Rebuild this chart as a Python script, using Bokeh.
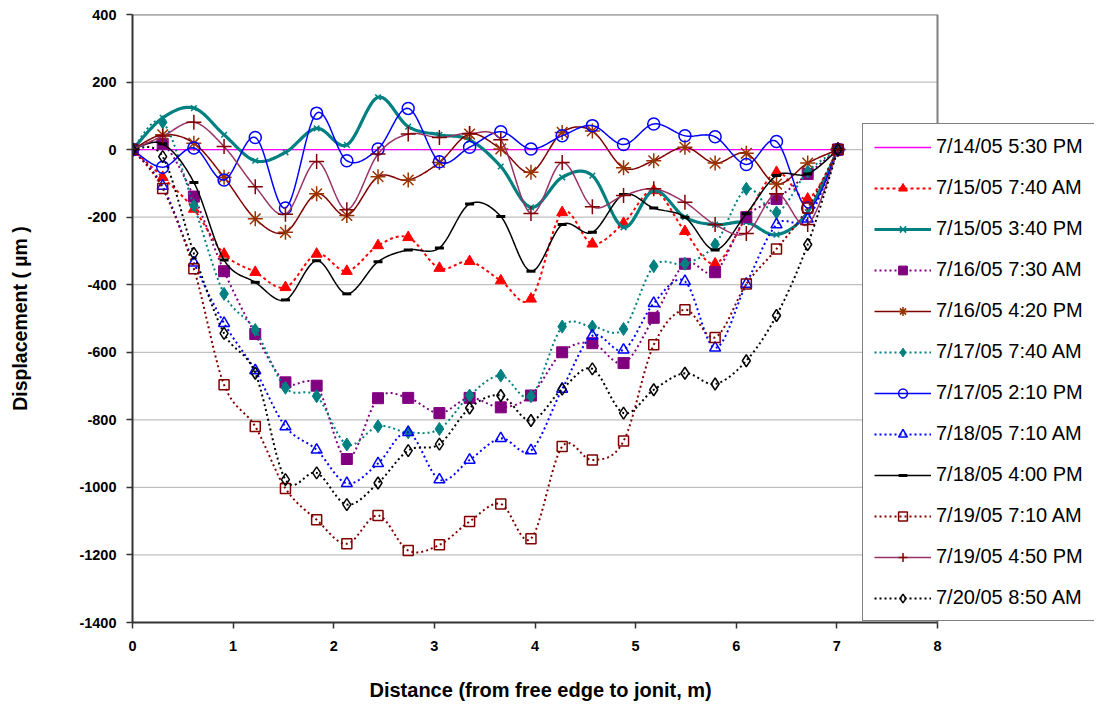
import numpy as np
from bokeh.plotting import figure
from bokeh.models import Range1d, Legend, LegendItem, Title, LinearAxis, FixedTicker
from bokeh.embed import file_html
from bokeh.resources import INLINE

# ---- data ----
X = [0, 0.30, 0.61, 0.91, 1.22, 1.52, 1.83, 2.13, 2.44, 2.74, 3.05, 3.35,
     3.66, 3.96, 4.27, 4.57, 4.88, 5.18, 5.49, 5.79, 6.10, 6.40, 6.71, 7.01]

LABELS = ["7/14/05 5:30 PM", "7/15/05 7:40 AM", "7/15/05 3:40 PM", "7/16/05 7:30 AM",
          "7/16/05 4:20 PM", "7/17/05 7:40 AM", "7/17/05 2:10 PM", "7/18/05 7:10 AM",
          "7/18/05 4:00 PM", "7/19/05 7:10 AM", "7/19/05 4:50 PM", "7/20/05 8:50 AM"]

S_0714_1730 = [0, 0, 0, 0, 0, 0, 0, 0, 0, 0, 0, 0, 0, 0, 0, 0, 0, 0, 0, 0, 0, 0, 0, 0]
S_0715_0740 = [0, -82, -176, -309, -363, -408, -309, -360, -284, -260, -351, -331,
               -388, -442, -186, -279, -218, -121, -242, -338, -200, -67, -146, 0]
S_0715_1540 = [0, 94, 123, 44, -33, -8, 63, 14, 155, 68, 44, 29,
               -50, -171, -82, -77, -230, -121, -200, -222, -215, -252, -185, 0]
S_0716_0730 = [0, 17, -139, -360, -546, -689, -699, -916, -736, -735, -780, -735,
               -763, -728, -600, -573, -632, -498, -338, -363, -200, -146, -72, 0]
S_0716_1620 = [0, 44, 19, -82, -205, -245, -131, -195, -80, -90, -38, 46,
               2, -67, 51, 55, -54, -33, 7, -40, -11, -102, -40, 0]
S_0717_0740 = [0, 81, -166, -427, -534, -705, -730, -873, -819, -837, -827, -728,
               -669, -730, -524, -524, -531, -345, -338, -281, -116, -186, -65, 0]
S_0717_1410 = [0, -52, 5, -90, 36, -173, 108, -33, 2, 122, -36, 7,
               53, 2, 41, 71, 15, 76, 41, 38, -44, 24, -173, 0]
S_0718_0710 = [0, -108, -335, -514, -654, -820, -889, -988, -929, -837, -977, -919,
               -855, -891, -709, -551, -593, -455, -390, -587, -398, -222, -205, 0]
S_0718_1600 = [0, 17, -97, -327, -393, -445, -329, -427, -332, -297, -291, -161,
               -198, -360, -222, -245, -133, -173, -200, -297, -190, -77, -72, 0]
S_0719_0710 = [0, -115, -353, -696, -820, -1003, -1096, -1167, -1083, -1187, -1170, -1101,
               -1049, -1152, -879, -919, -863, -578, -474, -556, -398, -294, -173, 0]
S_0719_1650 = [0, 40, 81, 9, -110, -191, -35, -178, -13, 46, 36, 48,
               29, -189, -38, -169, -136, -116, -156, -222, -248, -131, -222, 0]
S_0720_0850 = [0, -21, -307, -544, -662, -977, -957, -1051, -987, -891, -872, -765,
               -728, -802, -709, -649, -780, -711, -662, -694, -625, -491, -281, 0]

SERIES = [S_0714_1730, S_0715_0740, S_0715_1540, S_0716_0730, S_0716_1620, S_0717_0740,
          S_0717_1410, S_0718_0710, S_0718_1600, S_0719_0710, S_0719_1650, S_0720_0850]

X_TICKS = [0, 1, 2, 3, 4, 5, 6, 7, 8]
Y_TICKS = [-1400, -1200, -1000, -800, -600, -400, -200, 0, 200, 400]

X_TITLE = "Distance (from free edge to jonit, m)"
Y_TITLE = "Displacement ( \u00b5m )"

# ---- styles ----
STYLES = [
    dict(color="#FF00FF", lw=1.3, dash="solid", marker=None),
    dict(color="#FF0000", lw=2, dash="3 3", marker="triangle", size=11, fill="#FF0000", mline="#FF0000", mlw=1),
    dict(color="#008080", lw=3.2, dash="solid", marker="x", size=8, fill=None, mline="#008080", mlw=1.5),
    dict(color="#800080", lw=2, dash="2 3", marker="square", size=11, fill="#800080", mline="#800080", mlw=1),
    dict(color="#800000", lw=1.5, dash="solid", marker="asterisk", size=15, fill=None, mline="#993300", mlw=1.5),
    dict(color="#008080", lw=2, dash="2 3", marker="diamond", size=13, fill="#008080", mline="#008080", mlw=1),
    dict(color="#0000FF", lw=1.5, dash="solid", marker="circle", size=12, fill=None, mline="#0000FF", mlw=1.5),
    dict(color="#0000FF", lw=2, dash="2 3", marker="triangle", size=11, fill=None, mline="#0000FF", mlw=1.5),
    dict(color="#000000", lw=1.5, dash="solid", marker="dash", size=9, fill=None, mline="#000000", mlw=3),
    dict(color="#800000", lw=2, dash="2 3", marker="square", size=10, fill=None, mline="#800000", mlw=1.5),
    dict(color="#993366", lw=1.5, dash="solid", marker="cross", size=15, fill=None, mline="#800000", mlw=1.5),
    dict(color="#000000", lw=2, dash="2 3", marker="diamond", size=12, fill=None, mline="#000000", mlw=1.5),
]


def smooth(xs, ys, n=20):
    """Bezier smoothing (Catmull-Rom control points), like a spreadsheet 'smoothed line'."""
    P = np.column_stack([np.asarray(xs, float), np.asarray(ys, float)])
    out = [P[0]]
    t = np.linspace(0, 1, n + 1)[1:][:, None]
    for i in range(len(P) - 1):
        p0 = P[i - 1] if i > 0 else P[i]
        p3 = P[i + 2] if i + 2 < len(P) else P[i + 1]
        c1 = P[i] + (P[i + 1] - p0) / 6.0
        c2 = P[i + 1] - (p3 - P[i]) / 6.0
        seg = ((1 - t) ** 3) * P[i] + 3 * ((1 - t) ** 2) * t * c1 + 3 * (1 - t) * t ** 2 * c2 + t ** 3 * P[i + 1]
        out.extend(seg)
    out = np.array(out)
    return out[:, 0], out[:, 1]


FONT = "Liberation Sans"

W, H = 1094, 704
LEFT, TOP, BOTTOM = 132, 14, 82
AXIS_PX = 805  # pixel length of the 0..8 axis
frame_w = W - LEFT
x_end = X_TICKS[-1] * frame_w / AXIS_PX   # frame extended to the right so the legend can overlap

p = figure(width=W, height=H, output_backend="svg", toolbar_location=None,
           x_range=Range1d(X_TICKS[0], x_end), y_range=Range1d(Y_TICKS[0], Y_TICKS[-1]),
           min_border_left=LEFT, min_border_right=0, min_border_top=TOP, min_border_bottom=BOTTOM)
p.background_fill_color = "white"
p.border_fill_color = "white"
p.outline_line_color = None
p.xgrid.visible = False
p.ygrid.visible = False

# horizontal gridlines limited to the 0..8 plot area
gx0 = [X_TICKS[0]] * len(Y_TICKS)
gx1 = [X_TICKS[-1]] * len(Y_TICKS)
p.segment(x0=gx0, y0=Y_TICKS, x1=gx1, y1=Y_TICKS, line_color="#c0c0c0", line_width=1.2, level="underlay")
# plot-area border (top and right)
p.segment(x0=[X_TICKS[0], X_TICKS[-1]], y0=[Y_TICKS[-1], Y_TICKS[0]],
          x1=[X_TICKS[-1], X_TICKS[-1]], y1=[Y_TICKS[-1], Y_TICKS[-1]],
          line_color="#808080", line_width=2, level="underlay")

p.xaxis.ticker = X_TICKS
p.yaxis.ticker = Y_TICKS
p.xaxis.bounds = (X_TICKS[0], X_TICKS[-1])
p.yaxis.major_label_overrides = {v: str(v) for v in Y_TICKS}
p.xaxis.major_label_overrides = {v: str(v) for v in X_TICKS}
for ax in (p.xaxis, p.yaxis):
    ax.axis_line_color = "#333333"
    ax.axis_line_width = 2
    ax.major_tick_line_color = "#333333"
    ax.major_tick_line_width = 1.5
    ax.major_tick_out = 6
    ax.major_tick_in = 0
    ax.minor_tick_line_color = None
    ax.major_label_text_font = FONT
    ax.major_label_text_font_style = "bold"
    ax.major_label_text_font_size = "14.5px"
    ax.major_label_text_color = "black"
    ax.axis_label_text_font = FONT
    ax.axis_label_text_font_style = "bold"
    ax.axis_label_text_font_size = "19.5px"
    ax.axis_label_text_color = "black"

p.yaxis.axis_label = Y_TITLE
p.xaxis.major_label_standoff = 12
p.yaxis.major_label_standoff = 10
p.yaxis.axis_label_standoff = 45

# blank spacer axis (one white tick, empty label) that pushes the x title down
spacer = LinearAxis(ticker=FixedTicker(ticks=[X_TICKS[0]]), axis_line_color="white",
                    major_tick_line_color="white", minor_tick_line_color=None,
                    major_tick_out=23, major_tick_in=0, major_label_standoff=0,
                    major_label_overrides={X_TICKS[0]: ""})
p.add_layout(spacer, "below")

# x-axis title centred under the 0..8 part of the frame
xt = Title(text=X_TITLE, align="left", offset=237, standoff=0,
           text_font=FONT, text_font_style="bold", text_font_size="20px", text_color="black")
p.add_layout(xt, "below")

items = []
for label, ys, st in zip(LABELS, SERIES, STYLES):
    sx, sy = smooth(X, ys)
    rl = p.line(sx, sy, line_color=st["color"], line_width=st["lw"], line_dash=st["dash"])
    rs = [rl]
    if st["marker"]:
        r = p.scatter(X, ys, marker=st["marker"], size=st["size"],
                      fill_color=st["fill"], line_color=st["mline"], line_width=st["mlw"])
        rs.append(r)
    items.append(LegendItem(label=label, renderers=rs))

legend = Legend(items=items, location=(730, 1))
legend.border_line_color = "black"
legend.border_line_width = 1
legend.background_fill_color = "white"
legend.background_fill_alpha = 1
legend.label_text_font = FONT
legend.label_text_font_size = "20px"
legend.label_text_color = "black"
legend.glyph_width = 57
legend.glyph_height = 22
legend.label_height = 22
legend.label_standoff = 5
legend.spacing = 18
legend.padding = 11
legend.margin = 0
p.add_layout(legend)

open("out.html", "w").write(file_html(p, INLINE))
